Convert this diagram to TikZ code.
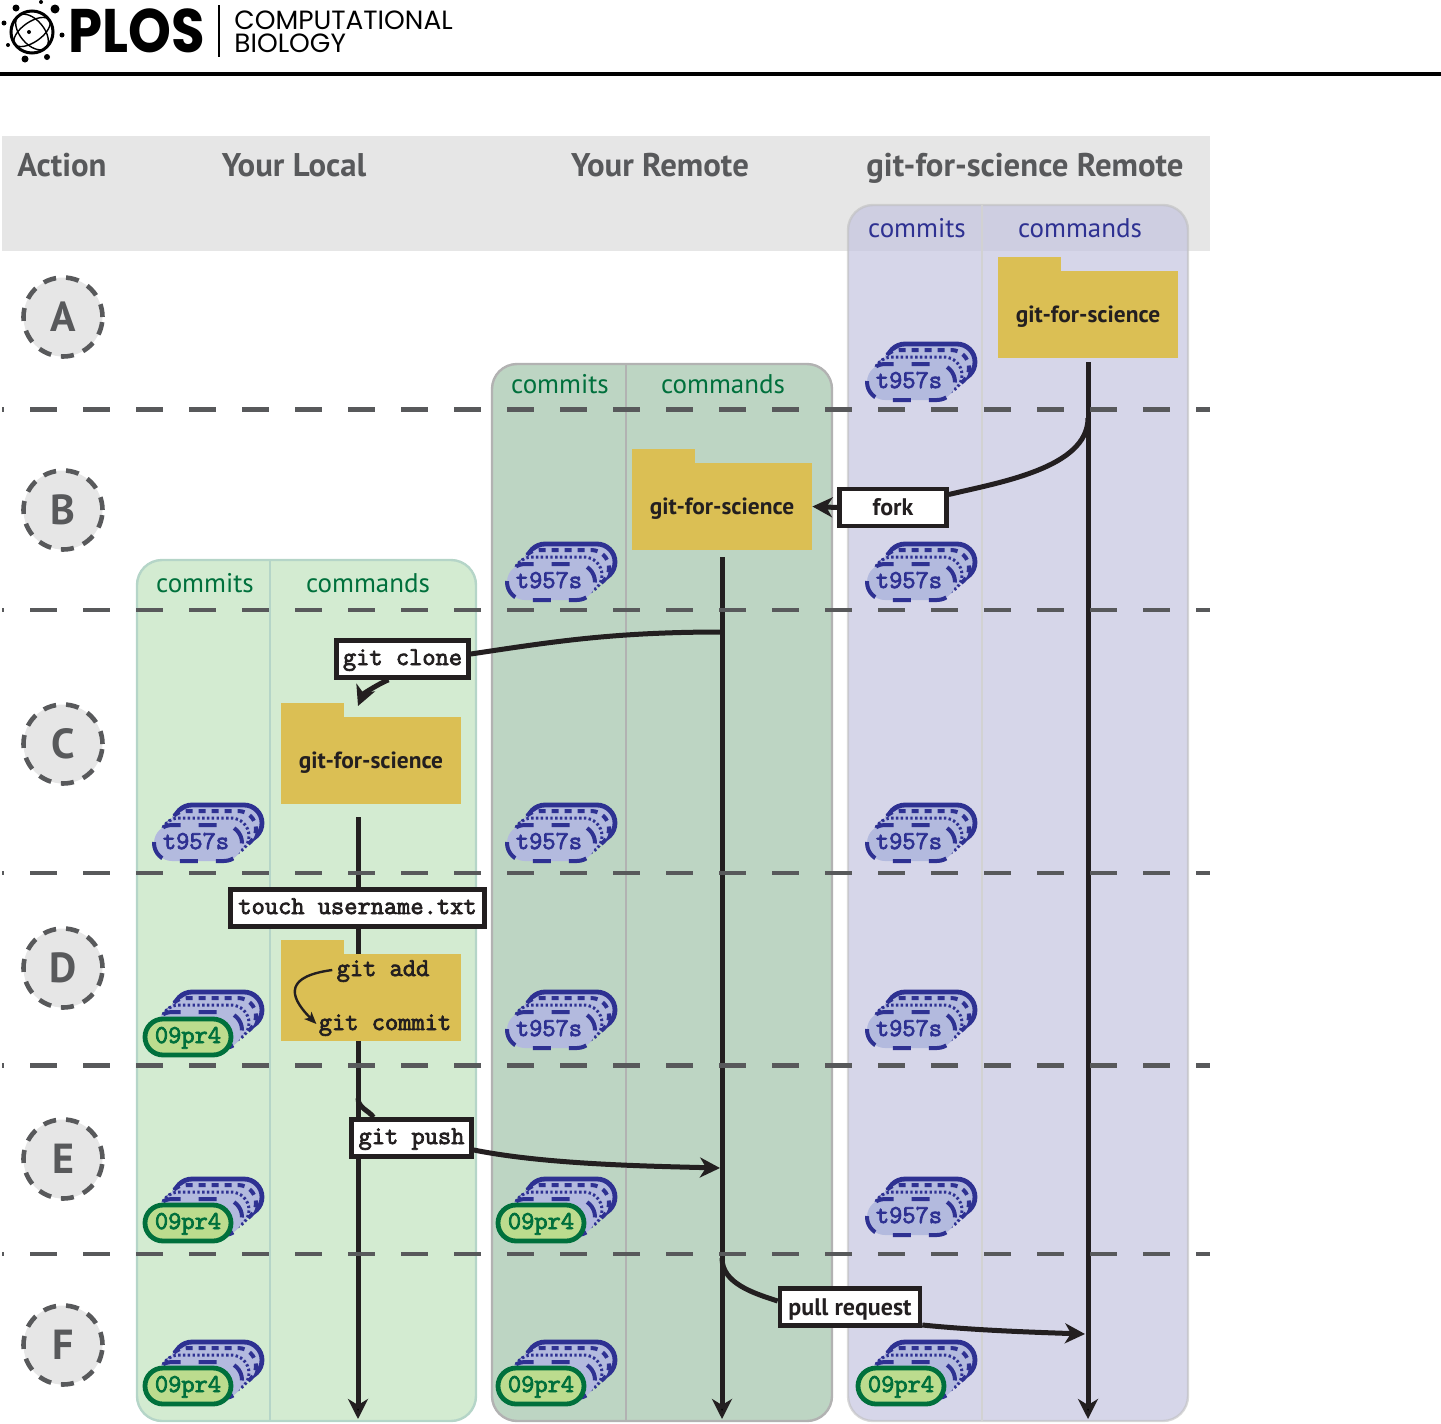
\documentclass[tikz,border=0pt]{standalone}
\usepackage{fontspec}
\usepackage{graphicx}
\setmainfont{PT Sans}
\setmonofont{Latin Modern Mono}[FakeBold=3]
\newfontfamily\logofont{Poppins}
\usetikzlibrary{arrows.meta}
\definecolor{headgray}{HTML}{E6E6E6}
\definecolor{inkgray}{HTML}{58595B}
\definecolor{trunkblack}{HTML}{231F20}
\definecolor{folderyellow}{HTML}{DBBF54}
\definecolor{navy}{HTML}{2E3192}
\definecolor{navyfill}{HTML}{B3BADE}
\definecolor{leaf}{HTML}{00703C}
\definecolor{leaffill}{HTML}{BCDC8E}
\definecolor{scipanel}{HTML}{C5C5E0}
\definecolor{remotepanel}{HTML}{BDD5C3}
\definecolor{localpanel}{HTML}{D3EBD1}
\definecolor{localedge}{HTML}{B5D5C8}
\tikzset{
  panel/.style={rounded corners=12.5pt,line width=1.2pt},
  headtext/.style={font=\bfseries\fontsize{16.4}{18}\selectfont,text=inkgray,text height=13pt,text depth=2pt},
  coltext/.style={font=\fontsize{13.5}{15}\selectfont,text height=10pt,text depth=1.5pt},
  sep/.style={draw=inkgray,line width=2.3pt,dash pattern=on 13.25pt off 13.25pt,dash phase=12.5pt},
  trunk/.style={draw=trunkblack,line width=2.5pt},
  tipped/.style={-{Stealth[length=10pt,width=10pt,inset=3pt]}},
  folder/.style={fill=folderyellow,inner sep=0pt,minimum width=90pt,minimum height=43.5pt,text=trunkblack,font=\bfseries\fontsize{11.7}{14}\selectfont,text height=10pt,text depth=2pt},
  cmdbox/.style={draw=trunkblack,fill=white,line width=2.3pt,inner sep=0pt,minimum height=18.5pt,text=trunkblack,font=\ttfamily\fontsize{12.85}{14}\selectfont,text height=8pt,text depth=2pt},
  boldbox/.style={cmdbox,font=\bfseries\fontsize{12}{14}\selectfont,text height=10pt,text depth=2pt},
  cmdtext/.style={inner sep=0pt,text=trunkblack,font=\ttfamily\fontsize{12.85}{14}\selectfont,text height=8pt,text depth=2pt},
  layer/.style={draw=navy,fill=navyfill,rounded corners=9pt},
  blobtext/.style={inner sep=0pt,font=\ttfamily\fontsize{12.85}{14}\selectfont,text height=8pt,text depth=2pt},
  pics/blue layers/.style={code={
    \draw[layer,line width=2.4pt] (-24,-38) rectangle (64,-2);
    \draw[layer,line width=2pt,dash pattern=on 3.5pt off 3pt] (-30,-32) rectangle (58,4);
    \draw[layer,line width=1.5pt,dash pattern=on 1.2pt off 1.2pt] (-37,-25) rectangle (51,11);
    \draw[layer,line width=2pt,dash pattern=on 9pt off 9pt] (-44,-18) rectangle (44,18);
  }},
  pics/blue stack/.style={code={
    \pic {blue layers};
    \node[blobtext,text=navy] (-label) at (-2,0) {t957s};
  }},
  pics/green tip/.style={code={
    \draw[draw=leaf,fill=leaffill,line width=2.4pt,rounded corners=9pt] (-43,-18) rectangle (43,18);
    \node[blobtext,text=leaf] (-label) {09pr4};
  }}
}
\begin{document}
\begin{tikzpicture}[x=0.5pt,y=-0.5pt]
  \useasboundingbox (0,0) rectangle (1441,1424);

  \fill (41,2) circle (2);
  \fill (55,9) circle (4.5);
  \fill (16,8) circle (3.5);
  \fill (4,23) circle (2.5);
  \fill (62,35) circle (2.5);
  \fill (8,45) circle (2);
  \fill (25,59) circle (3.5);
  \fill (47,57) circle (3);
  \fill (29,32) circle (2);
  \draw[line width=1.5pt] (32,32) circle (21);
  \draw[line width=.7pt,rotate around={35:(32,32)}] (32,32) ellipse (21 and 10);
  \draw[line width=.7pt,rotate around={-50:(32,32)}] (32,32) ellipse (21 and 12);
  \node[inner sep=0pt,font=\logofont\bfseries\fontsize{29}{29}\selectfont] (plos) at (137,31) {\scalebox{.94}[1.06]{PLOS}};
  \draw[line width=1pt] (219,5) -- (219,57);
  \node[inner sep=0pt,anchor=west,text height=9pt,text depth=0pt,font=\logofont\fontsize{13.2}{15}\selectfont] (journala) at (234,20) {COMPUTATIONAL};
  \node[inner sep=0pt,anchor=west,text height=9pt,text depth=0pt,font=\logofont\fontsize{13.2}{15}\selectfont] (journalb) at (234,44) {BIOLOGY};
  \draw[line width=2pt] (0,74) -- (1441,74);

  \fill[headgray] (2,136) rectangle (1210,251);
  \node[headtext] (action) at (62,165) {Action};
  \node[headtext] (yourlocal) at (294,165) {Your Local};
  \node[headtext] (yourremote) at (660,165) {Your Remote};
  \node[headtext] (sciremote) at (1025,165) {git-for-science Remote};

  \draw[panel,draw=gray!50,draw opacity=.6,fill=scipanel,fill opacity=.7] (848,205) rectangle (1188,1421);
  \draw[panel,draw=gray!60,fill=remotepanel] (492,364) rectangle (832,1421);
  \draw[panel,draw=localedge,fill=localpanel] (137,560) rectangle (476,1421);
  \draw[line width=1pt,draw=gray!35] (982,205) -- (982,1421);
  \draw[line width=1pt,draw=gray!60] (626,364) -- (626,1421);
  \draw[line width=1pt,draw=localedge] (270,560) -- (270,1421);

  \begin{scope}[every node/.style={coltext,text=navy}]
    \node (commitsa) at (917,229) {commits};
    \node (commandsa) at (1080,229) {commands};
  \end{scope}
  \begin{scope}[every node/.style={coltext,text=leaf}]
    \node (commitsb) at (560,385) {commits};
    \node (commandsb) at (723,385) {commands};
    \node (commitsc) at (205,584) {commits};
    \node (commandsc) at (368,584) {commands};
  \end{scope}

  \begin{scope}[every node/.style={circle,draw=inkgray,fill=headgray,line width=2.3pt,dash pattern=on 6.5pt off 5pt,minimum size=39.5pt,inner sep=0pt,text=inkgray,font=\bfseries\fontsize{21}{23}\selectfont}]
    \node (A) at (63,317)  {A};
    \node (B) at (63,510)  {B};
    \node (C) at (63,744)  {C};
    \node (D) at (63,968)  {D};
    \node (E) at (63,1159) {E};
    \node (F) at (63,1345) {F};
  \end{scope}

  \coordinate (topa) at (1088,362);
  \coordinate (enda) at (1088,1419);
  \coordinate (topb) at (722,557);
  \coordinate (endb) at (722,1419);
  \coordinate (topc) at (358,817);
  \coordinate (endc) at (358,1419);
  \path[trunk] (topa) edge[tipped] (enda);
  \path[trunk] (topb) edge[tipped] (endb);
  \path[trunk] (topc) edge[tipped] (endc);

  \draw[sep] (2,409.5)  -- (1210,409.5);
  \draw[sep] (2,610)  -- (1210,610);
  \draw[sep] (2,873)  -- (1210,873);
  \draw[sep] (2,1065.5) -- (1210,1065.5);
  \draw[sep] (2,1254) -- (1210,1254);

  \node[folder] (foldera) at (1088,314.5) {git-for-science};
  \node[folder] (folderb) at (722,506.5)  {git-for-science};
  \node[folder] (folderc) at (371,760.5)  {git-for-science};
  \node[folder] (folderd) at (371,997.5)  {};
  \fill[folderyellow] (foldera.north west) rectangle +(63,-14);
  \fill[folderyellow] (folderb.north west) rectangle +(63,-14);
  \fill[folderyellow] (folderc.north west) rectangle +(63,-14);
  \fill[folderyellow] (folderd.north west) rectangle +(63,-14);

  \pic (stacka) at (911,382) {blue stack};
  \pic (stackba) at (551,582) {blue stack};
  \pic (stackbb) at (911,582) {blue stack};
  \pic (stackca) at (198,843) {blue stack};
  \pic (stackcb) at (551,843) {blue stack};
  \pic (stackcc) at (911,843) {blue stack};
  \pic (stackda) at (198,1030) {blue layers};
  \pic (stackdb) at (551,1030) {blue stack};
  \pic (stackdc) at (911,1030) {blue stack};
  \pic (stackea) at (198,1217) {blue layers};
  \pic (stackeb) at (551,1217) {blue layers};
  \pic (stackec) at (911,1217) {blue stack};
  \pic (stackfa) at (198,1380) {blue layers};
  \pic (stackfb) at (551,1380) {blue layers};
  \pic (stackfc) at (911,1380) {blue layers};
  \pic (tipda) at (188,1037) {green tip};
  \pic (tipea) at (188,1223) {green tip};
  \pic (tipeb) at (541,1223) {green tip};
  \pic (tipfa) at (188,1386) {green tip};
  \pic (tipfb) at (541,1386) {green tip};
  \pic (tipfc) at (901,1386) {green tip};

  \node[boldbox,minimum width=53.5pt] (fork) at (893,507.5) {fork};
  \node[cmdbox,minimum width=66pt] (gitclone) at (402.5,659) {git clone};
  \node[cmdbox,minimum width=127pt] (touchfile) at (357.5,908) {touch username.txt};
  \node[cmdbox,minimum width=60pt] (gitpush) at (411.5,1138) {git push};
  \node[boldbox,minimum width=70pt] (pullreq) at (850,1307) {pull request};
  \node[cmdtext] (gitadd) at (383,970) {git add};
  \node[cmdtext] (gitcommit) at (385,1024) {git commit};

  \coordinate (forkstart) at (1088,418);
  \coordinate (clonestart) at (722,632);
  \coordinate (clonetip) at (358,706);
  \coordinate (pushstart) at (358,1098);
  \coordinate (pushtip) at (720,1168);
  \coordinate (pullstart) at (722,1258);
  \coordinate (pulltip) at (1085,1334);

  \draw[trunk] (forkstart) .. controls +(0,50) and +(50,-12) .. ([yshift=6.5pt]fork.east);
  \draw[trunk,tipped] (fork.west) -- (folderb.east);
  \draw[trunk] (clonestart) .. controls +(-110,0) and +(80,-12) .. ([yshift=2.5pt]gitclone.east);
  \draw[trunk,tipped] ([xshift=-7pt]gitclone.south) .. controls +(-10,4) and +(5,-12) .. (clonetip);
  \draw[trunk] (pushstart) .. controls +(0,10) and +(-5,-7) .. ([xshift=-19pt]gitpush.north);
  \draw[trunk,tipped] ([yshift=-6pt]gitpush.east) .. controls +(70,14) and +(-80,-2) .. (pushtip);
  \draw[trunk] (pullstart) .. controls +(0,25) and +(-25,-8) .. ([yshift=3pt]pullreq.west);
  \draw[trunk,tipped] ([yshift=-9pt]pullreq.east) .. controls +(50,5) and +(-60,-2) .. (pulltip);
  \draw[trunkblack,line width=1.2pt,-{Stealth[length=6pt,width=5pt,inset=1.5pt]}] ([xshift=-2pt]gitadd.west) .. controls +(-45,6) and +(-30,-30) .. ([xshift=-1pt]gitcommit.west);
\end{tikzpicture}
\end{document}
